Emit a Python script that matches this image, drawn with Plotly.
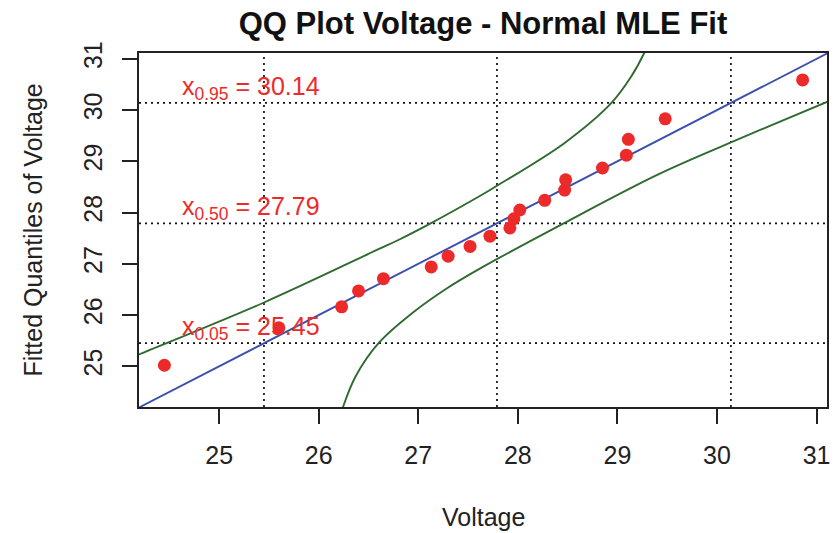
import plotly.graph_objects as go

# ---- data ----
voltage = [24.45, 25.60, 26.23, 26.40, 26.65, 27.13, 27.30, 27.52, 27.72, 27.92,
           27.96, 28.02, 28.27, 28.47, 28.48, 28.85, 29.09, 29.11, 29.48, 30.86]
fitted_q = [25.02, 25.75, 26.16, 26.47, 26.71, 26.94, 27.15, 27.34, 27.54, 27.70,
            27.88, 28.05, 28.24, 28.44, 28.64, 28.87, 29.12, 29.43, 29.83, 30.59]

# identity reference line
ref_x = [24.0, 31.5]
ref_y = [24.0, 31.5]

# upper confidence band
upper_x = [24.10, 24.195, 25.445, 26.595, 26.805, 27.105, 27.605, 27.77,
           28.47, 28.94, 29.14, 29.27, 29.33]
upper_y = [25.15, 25.23, 26.24, 27.28, 27.47, 27.77, 28.31, 28.50,
           29.36, 30.14, 30.66, 31.12, 31.40]

# lower confidence band
lower_x = [26.22, 26.245, 26.37, 26.605, 26.94, 27.27, 27.64, 28.47,
           29.405, 30.105, 31.105, 31.20]
lower_y = [24.05, 24.21, 24.80, 25.46, 26.04, 26.50, 26.93, 27.80,
           28.74, 29.34, 30.16, 30.23]

quant_levels = ["0.05", "0.50", "0.95"]
quant_values = [25.45, 27.79, 30.14]

x_range = [24.195, 31.105]
y_range = [24.205, 31.115]
tick_vals = [25, 26, 27, 28, 29, 30, 31]

FONT = "Liberation Sans, Arial, Helvetica, sans-serif"
RED = "#ec2a2a"
GREEN = "#2f6a2f"
BLUE = "#3a4fae"
TXT = "#222222"

fig = go.Figure()

# dotted quantile reference lines
for q in quant_values:
    fig.add_shape(type="line", xref="paper", yref="y", x0=0, x1=1, y0=q, y1=q,
                  line=dict(color="#111111", width=1.7, dash="2px,4px"), layer="below")
    fig.add_shape(type="line", xref="x", yref="paper", x0=q, x1=q, y0=0, y1=1,
                  line=dict(color="#111111", width=1.7, dash="2px,4px"), layer="below")

fig.add_trace(go.Scatter(x=upper_x, y=upper_y, mode="lines",
                         line=dict(color=GREEN, width=1.9, shape="spline", smoothing=1.0),
                         hoverinfo="skip", showlegend=False))
fig.add_trace(go.Scatter(x=lower_x, y=lower_y, mode="lines",
                         line=dict(color=GREEN, width=1.9, shape="spline", smoothing=1.0),
                         hoverinfo="skip", showlegend=False))
fig.add_trace(go.Scatter(x=ref_x, y=ref_y, mode="lines",
                         line=dict(color=BLUE, width=1.9),
                         hoverinfo="skip", showlegend=False))
fig.add_trace(go.Scatter(x=voltage, y=fitted_q, mode="markers",
                         marker=dict(color=RED, size=13, line=dict(width=0)),
                         showlegend=False))

for lvl, q in zip(quant_levels, quant_values):
    fig.add_annotation(x=24.61, y=q, xref="x", yref="y",
                       text=f"x<sub>{lvl}</sub> = {q:.2f}",
                       showarrow=False, xanchor="left", yanchor="bottom",
                       yshift=-3,
                       font=dict(family=FONT, size=25, color=RED))

# axis titles as annotations
fig.add_annotation(x=(33 - 139) / 691, y=0.5, xref="paper", yref="paper",
                   text="Fitted Quantiles of Voltage", textangle=-90,
                   showarrow=False, xanchor="center", yanchor="middle",
                   font=dict(family=FONT, size=25, color=TXT))
fig.add_annotation(x=0.5, y=-(517 - 407) / 354, xref="paper", yref="paper",
                   text="Voltage", showarrow=False, xanchor="center", yanchor="middle",
                   font=dict(family=FONT, size=25, color=TXT))

axis_common = dict(showgrid=False, zeroline=False, showline=True, mirror=True,
                   linecolor="#222222", linewidth=1.6, ticks="outside", ticklen=15,
                   tickwidth=1.6, tickcolor="#222222",
                   tickfont=dict(family=FONT, size=25, color=TXT))

fig.update_layout(
    width=835, height=533,
    margin=dict(l=139, r=5, t=53, b=126),
    paper_bgcolor="white", plot_bgcolor="white",
    title=dict(text="<b>QQ Plot Voltage - Normal MLE Fit</b>", x=0.5, xref="paper",
               y=1 - 23 / 533, yref="container", xanchor="center", yanchor="middle",
               font=dict(family=FONT, size=31, color="#111111")),
    xaxis=dict(range=x_range, tickvals=tick_vals, ticklabelstandoff=10, **axis_common),
    yaxis=dict(range=y_range, tickvals=tick_vals, tickangle=-90, ticklabelstandoff=10,
               **axis_common),
)

fig.write_html("out.html")
